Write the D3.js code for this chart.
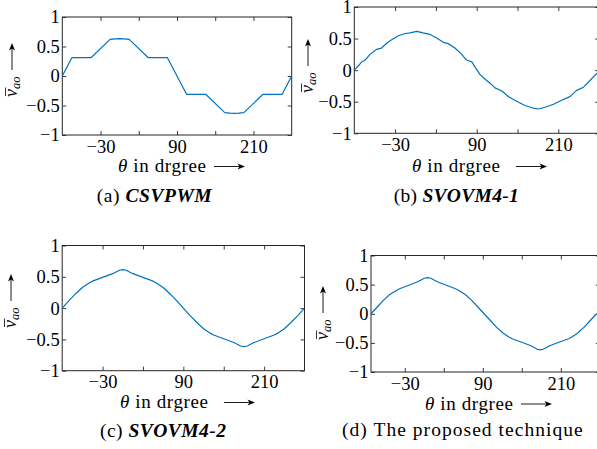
<!DOCTYPE html>
<html>
<head>
<meta charset="utf-8">
<script src="https://cdn.jsdelivr.net/npm/d3@7"></script>
<style>
  body { margin: 0; background: #fff; }
  svg { display: block; }
</style>
</head>
<body>
<svg id="fig" width="597" height="449" style="font-family: 'Liberation Serif', 'DejaVu Serif', serif;"></svg>
<script>
// ---- values ----
var xTicks = [-30, 30, 90, 150, 210];
var xTickLabels = ["\u221230", "", "90", "", "210"];
var yTicks = [-1, -0.5, 0, 0.5, 1];
var yTickLabels = ["\u22121", "\u22120.5", "0", "0.5", "1"];

// (a) CSVPWM
var thetaA = [-90, -75, -45, -15, -7, 0, 7, 15, 45, 75, 90, 105, 135, 165, 173, 180, 187, 195, 225, 255, 270];
var vA     = [0, 0.31, 0.31, 0.62, 0.63, 0.635, 0.63, 0.62, 0.31, 0.31, 0, -0.31, -0.31, -0.62, -0.63, -0.635, -0.63, -0.62, -0.31, -0.31, 0];

// (b) SVOVM4-1
var thetaB = [-90, -84, -79, -74, -67, -57, -50, -42, -35, -25, -15, -8, 2, 11, 21, 31, 41, 48, 58, 68, 75, 83, 88,
              95, 102, 110, 117, 127, 137, 146, 161, 173, 181, 193, 203, 215, 227, 237, 247, 257, 264, 270];
var vB     = [0, 0.07, 0.13, 0.16, 0.25, 0.33, 0.35, 0.43, 0.48, 0.545, 0.58, 0.59, 0.615, 0.59, 0.567, 0.51, 0.44, 0.42, 0.35, 0.25, 0.16, 0.13, 0.04,
              -0.07, -0.14, -0.21, -0.28, -0.33, -0.42, -0.476, -0.56, -0.6, -0.615, -0.58, -0.54, -0.476, -0.42, -0.32, -0.27, -0.16, -0.08, -0.02];

// (c) SVOVM4-2
var thetaC = [-90, -80, -70, -60, -50, -45, -30, -15, -5, 0, 5, 15, 30, 45, 50, 60, 70, 80, 90,
              100, 110, 120, 130, 135, 150, 165, 175, 180, 185, 195, 210, 225, 230, 240, 250, 260, 270];
var vC     = [0, 0.12, 0.23, 0.33, 0.40, 0.43, 0.49, 0.55, 0.605, 0.615, 0.605, 0.55, 0.49, 0.43, 0.40, 0.33, 0.23, 0.12, 0,
              -0.12, -0.23, -0.33, -0.40, -0.43, -0.49, -0.55, -0.605, -0.615, -0.605, -0.55, -0.49, -0.43, -0.40, -0.33, -0.23, -0.12, 0];

// (d) the proposed technique
var thetaD = [-82, -72, -63, -53, -43, -38, -24, -10, 0, 5, 10, 20, 34, 48, 53, 63, 73, 82, 92,
              102, 111, 121, 130, 135, 150, 164, 174, 178.5, 183, 193, 207, 222, 227, 236, 246, 255, 265];
var vD     = [0, 0.12, 0.23, 0.33, 0.40, 0.43, 0.49, 0.55, 0.61, 0.62, 0.61, 0.55, 0.49, 0.43, 0.40, 0.33, 0.23, 0.12, 0,
              -0.12, -0.23, -0.33, -0.40, -0.43, -0.49, -0.55, -0.61, -0.62, -0.61, -0.55, -0.49, -0.43, -0.40, -0.33, -0.23, -0.12, 0];

var captionTags = ["(a) ", "(b) ", "(c) ", "(d) "];
var captionNames = ["CSVPWM", "SVOVM4-1", "SVOVM4-2", "The proposed technique"];

// ---- layout ----
var panels = [
  { th: thetaA, v: vA, xDom: [-90, 270], L: 62.3, R: 291.7, T: 17, B: 135,
    yl: [17, 97], xl: [118, 245, 172], cap: [96.7, 211.7, 202], italic: true },
  { th: thetaB, v: vB, xDom: [-90, 270], L: 354.3, R: 599.1, T: 7, B: 133.3,
    yl: [313, 93], xl: [412, 547, 172], cap: [393.7, 518.7, 202], italic: true },
  { th: thetaC, v: vC, xDom: [-90, 270], L: 62.2, R: 304.5, T: 245.5, B: 370.7,
    yl: [16, 328], xl: [120, 255, 408], cap: [100, 226, 437], italic: true },
  { th: thetaD, v: vD, xDom: [-82, 270], L: 371, R: 599.8, T: 255.5, B: 372,
    yl: [328, 340], xl: [425, 552, 409.5], cap: [342, 582.7, 436], italic: false }
];

var svg = d3.select("#fig");
var serif = "'Liberation Serif', 'DejaVu Serif', serif";
var axisColor = "#262626";
var lineColor = "#0072bd";
var tickFont = 18.5;

function arrowRight(g, x1, x2, y) {
  g.append("line").attr("x1", x1).attr("x2", x2 - 4).attr("y1", y).attr("y2", y)
    .attr("stroke", "#000").attr("stroke-width", 0.9);
  g.append("path")
    .attr("d", "M" + x2 + "," + y + " L" + (x2 - 7.5) + "," + (y - 3) + " L" + (x2 - 5.5) + "," + y + " L" + (x2 - 7.5) + "," + (y + 3) + " Z")
    .attr("fill", "#000");
}

panels.forEach(function(p, k) {
  var x = d3.scaleLinear().domain(p.xDom).range([p.L, p.R]);
  var y = d3.scaleLinear().domain([-1, 1]).range([p.B, p.T]);
  var g = svg.append("g");

  var clipId = "clip" + k;
  g.append("clipPath").attr("id", clipId).append("rect")
    .attr("x", p.L).attr("y", p.T).attr("width", p.R - p.L).attr("height", p.B - p.T);

  // ticks on all four sides, pointing inward
  var bottom = d3.axisBottom(x).tickValues(xTicks).tickSize(-4).tickSizeOuter(0).tickPadding(4.5)
    .tickFormat(function(d, i) { return xTickLabels[i]; });
  var top = d3.axisTop(x).tickValues(xTicks).tickSize(-4).tickSizeOuter(0).tickFormat("");
  var left = d3.axisLeft(y).tickValues(yTicks).tickSize(-4).tickSizeOuter(0).tickPadding(2.5)
    .tickFormat(function(d, i) { return yTickLabels[i]; });
  var right = d3.axisRight(y).tickValues(yTicks).tickSize(-4).tickSizeOuter(0).tickFormat("");

  [[bottom, "translate(0," + p.B + ")"], [top, "translate(0," + p.T + ")"],
   [left, "translate(" + p.L + ",0)"], [right, "translate(" + p.R + ",0)"]].forEach(function(a) {
    var ax = g.append("g").attr("transform", a[1]).call(a[0]);
    ax.attr("font-family", serif).attr("font-size", tickFont);
    ax.select(".domain").remove();
    ax.selectAll("line").attr("stroke", axisColor).attr("stroke-width", 0.9);
    ax.selectAll("text").attr("fill", "#000");
  });

  g.append("rect").attr("x", p.L).attr("y", p.T).attr("width", p.R - p.L).attr("height", p.B - p.T)
    .attr("fill", "none").attr("stroke", axisColor).attr("stroke-width", 1);

  var pts = p.th.map(function(t, i) { return [t, p.v[i]]; });
  g.append("path").datum(pts)
    .attr("clip-path", "url(#" + clipId + ")")
    .attr("fill", "none").attr("stroke", lineColor).attr("stroke-width", 1.2)
    .attr("stroke-linejoin", "round")
    .attr("d", d3.line().x(function(d) { return x(d[0]); }).y(function(d) { return y(d[1]); }));

  // y title: v-bar_ao with upward arrow
  var yt = g.append("g").attr("transform", "translate(" + p.yl[0] + "," + p.yl[1] + ") rotate(-90)");
  var vt = yt.append("text").attr("x", 0).attr("y", 0)
    .style("font-family", serif).style("font-size", "18px");
  vt.append("tspan").style("font-style", "italic").text("v");
  vt.append("tspan").style("font-style", "italic").style("font-size", "12.5px").attr("dy", 3).text("ao");
  yt.append("line").attr("x1", 1).attr("x2", 9.5).attr("y1", -11.5).attr("y2", -11.5)
    .attr("stroke", "#000").attr("stroke-width", 0.8);
  arrowRight(yt, 27, 54, -5);

  // x title
  var xt = g.append("text").attr("x", p.xl[0]).attr("y", p.xl[2])
    .style("font-family", serif).style("font-size", "19px")
    .attr("textLength", 88).attr("lengthAdjust", "spacing");
  xt.append("tspan").style("font-style", "italic").text("\u03b8");
  xt.append("tspan").text(" in drgree");
  arrowRight(g, p.xl[1] - 31, p.xl[1], p.xl[2] - 5.5);

  // caption
  var ct = g.append("text").attr("x", p.cap[0]).attr("y", p.cap[2])
    .style("font-family", serif).style("font-size", "19.5px")
    .attr("textLength", p.cap[1] - p.cap[0]).attr("lengthAdjust", "spacing");
  ct.append("tspan").text(captionTags[k]);
  var nm = ct.append("tspan").text(captionNames[k]);
  if (p.italic) nm.style("font-style", "italic").style("font-weight", "bold");
});
</script>
</body>
</html>
